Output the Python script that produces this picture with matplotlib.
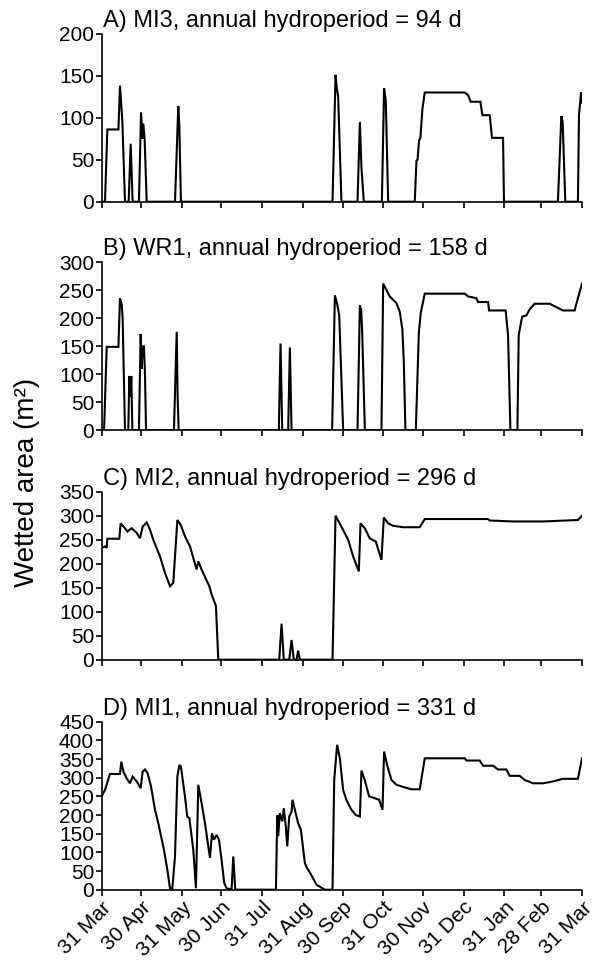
import matplotlib
matplotlib.use("Agg")
import matplotlib.pyplot as plt

plt.rcParams["font.family"] = ["Liberation Sans", "DejaVu Sans"]

# Day of the hydrological year (0 = 31 Mar) and wetted area (m2)
tick_days = [0, 30, 61, 91, 122, 153, 183, 214, 244, 275, 306, 334, 365]
tick_labels = ["31 Mar", "30 Apr", "31 May", "30 Jun", "31 Jul", "31 Aug",
               "30 Sep", "31 Oct", "30 Nov", "31 Dec", "31 Jan", "28 Feb", "31 Mar"]

mi3_day = [0, 2.5, 4.3, 12.7, 13.9, 14.7, 15.7, 17.7, 20.5, 22.0, 23.5, 28.3, 29.9,
           30.9, 31.6, 32.6, 34.2, 55.7, 58.2, 59.0, 60.2, 175.4, 177.7, 178.7,
           179.7, 182.2, 194.4, 196.2, 197.4, 199.2, 212.9, 214.6, 215.9, 217.7,
           237.9, 239.2, 240.0, 241.2, 242.2, 243.7, 245.5, 275.9, 278.4, 280.4,
           287.8, 289.3, 294.9, 296.6, 305.0, 305.7, 346.7, 349.3, 350.3, 352.3,
           361.9, 362.7, 364.3, 365.0]
mi3_area = [0, 0, 86, 86, 138, 120, 95, 0, 0, 69, 0, 0, 106,
            75, 93, 75, 0, 0, 114, 90, 0, 0, 151, 135,
            125, 0, 0, 95, 40, 0, 0, 135, 120, 0,
            0, 49, 50, 73, 76, 110, 130, 130, 127, 119,
            119, 103, 103, 76, 76, 0, 0, 102, 95, 0,
            0, 103, 130, 118]

wr1_day = [0, 1.8, 3.8, 12.7, 13.9, 15.2, 15.9, 17.7, 20.2, 21.0, 21.8, 22.5, 23.3,
           28.3, 29.6, 30.4, 31.1, 32.1, 32.9, 33.7, 54.9, 57.0, 57.7, 58.5,
           134.6, 135.9, 137.2, 141.7, 143.0, 144.3, 175.1, 177.2, 179.0, 180.5,
           183.5, 194.4, 196.2, 197.2, 197.9, 200.0, 212.6, 213.9, 215.6, 218.9,
           224.0, 226.5, 228.5, 229.6, 230.8, 238.7, 241.0, 242.5, 245.5, 275.9,
           278.4, 284.7, 286.0, 293.6, 294.4, 307.0, 308.8, 310.6, 315.9, 316.9,
           319.5, 322.7, 325.2, 329.0, 340.4, 350.5, 359.4, 361.9, 365.0]
wr1_area = [0, 0, 149, 149, 236, 225, 200, 0, 0, 97, 60, 97, 0,
            0, 172, 110, 150, 150, 100, 0, 0, 176, 60, 0,
            0, 155, 0, 0, 148, 0, 0, 241, 225, 205,
            0, 0, 223, 215, 180, 0, 0, 262, 254, 239,
            227, 212, 180, 121, 0, 0, 174, 210, 244, 244,
            239, 236, 229, 229, 214, 214, 170, 0, 0, 170,
            203, 205, 216, 226, 226, 214, 214, 236, 262]

mi2_day = [0, 2.5, 3.8, 4.3, 13.4, 14.4, 17.7, 19.5, 22.8, 26.6, 29.1, 31.1, 34.2,
           36.7, 39.2, 44.3, 48.1, 51.9, 54.4, 57.5, 60.0, 63.3, 67.1, 72.1,
           73.4, 75.9, 81.8, 83.5, 86.8, 88.6, 134.9, 136.7, 138.4, 142.5,
           144.3, 146.0, 148.1, 149.3, 150.6, 175.4, 177.7, 182.2, 187.3, 191.1,
           195.4, 196.7, 199.9, 203.7, 208.3, 212.6, 214.4, 217.7, 221.5, 229.1,
           241.7, 245.5, 293.6, 294.9, 312.6, 335.4, 361.9, 365.0]
mi2_area = [233, 236, 233, 252, 252, 284, 274, 267, 274, 264, 253, 277, 286,
            271, 250, 215, 181, 153, 160, 291, 281, 257, 236, 188,
            205, 188, 153, 136, 112, 0, 0, 75, 0, 0,
            41, 0, 0, 19, 0, 0, 300, 277, 250, 215,
            184, 284, 274, 253, 246, 208, 296, 284, 279, 276,
            276, 293, 293, 290, 288, 288, 291, 300]

mi1_day = [0, 2.5, 6.3, 13.9, 14.9, 16.5, 19.0, 21.5, 23.5, 26.6, 29.6, 31.1, 32.9,
           34.9, 37.5, 40.5, 43.0, 47.3, 49.9, 51.9, 53.7, 55.7, 57.5, 59.0,
           60.2, 63.3, 65.0, 66.6, 69.6, 71.6, 73.4, 75.9, 78.5, 81.0, 82.3,
           83.8, 85.3, 87.3, 89.1, 91.1, 93.1, 94.9, 98.7, 100.0, 101.5, 132.4,
           133.4, 134.1, 135.4, 137.2, 138.4, 139.9, 141.0, 142.5, 144.3, 145.0,
           146.8, 149.3, 151.4, 154.4, 156.2, 158.7, 160.7, 163.3, 165.8, 169.6,
           175.4, 176.7, 178.9, 181.0, 183.5, 186.0, 189.8, 193.1, 196.2, 197.4,
           199.9, 203.2, 207.5, 210.8, 213.4, 214.6, 217.2, 220.2, 224.0, 230.3,
           235.4, 241.7, 245.5, 275.9, 277.2, 287.3, 289.8, 297.4, 301.2, 307.5,
           310.0, 317.6, 321.4, 327.8, 335.4, 343.0, 350.5, 361.9, 365.0]
mi1_area = [251, 267, 310, 310, 343, 316, 298, 285, 303, 290, 272, 316, 322,
            312, 276, 214, 178, 107, 53, 4, 4, 89, 303, 334,
            330, 249, 196, 192, 107, 4, 281, 232, 178, 116, 85,
            151, 134, 147, 134, 80, 18, 4, 0, 89, 0, 0,
            200, 143, 205, 183, 218, 170, 116, 196, 209, 241,
            214, 178, 160, 71, 57, 43, 30, 13, 8, 0,
            0, 294, 388, 352, 267, 240, 214, 200, 196, 319,
            294, 250, 245, 241, 214, 370, 330, 294, 281, 274,
            269, 269, 352, 352, 346, 346, 332, 332, 322, 322,
            305, 305, 294, 285, 285, 290, 297, 297, 352]

panels = [
    ("A) MI3, annual hydroperiod = 94 d", mi3_day, mi3_area, 200, 50),
    ("B) WR1, annual hydroperiod = 158 d", wr1_day, wr1_area, 300, 50),
    ("C) MI2, annual hydroperiod = 296 d", mi2_day, mi2_area, 350, 50),
    ("D) MI1, annual hydroperiod = 331 d", mi1_day, mi1_area, 450, 50),
]

W, H = 595, 961
fig = plt.figure(figsize=(W / 100, H / 100), dpi=100)

left, right = 101.7, 582.0
tops = [33.7, 262.3, 491.7, 721.7]
height = 168.0

for i, (title, days, area, ymax, ystep) in enumerate(panels):
    top = tops[i]
    ax = fig.add_axes([left / W, 1 - (top + height) / H, (right - left) / W, height / H])
    ax.plot(days, area, color="black", lw=1.5, solid_joinstyle="miter")
    ax.set_xlim(0, 365)
    ax.set_ylim(0, ymax)
    ax.set_yticks(range(0, ymax + 1, ystep))
    ax.set_xticks(tick_days)
    for s in ("top", "right"):
        ax.spines[s].set_visible(False)
    for s in ("left", "bottom"):
        ax.spines[s].set_linewidth(1.2)
    ax.tick_params(axis="both", direction="out", length=4, width=1.2,
                   labelsize=15, pad=2)
    ax.tick_params(axis="y", pad=1.5)
    if i == len(panels) - 1:
        ax.set_xticklabels(tick_labels, rotation=45, ha="right",
                           rotation_mode="anchor")
    else:
        ax.set_xticklabels([])
    ax.text(0.003, 1.012, title, transform=ax.transAxes, ha="left", va="bottom",
            fontsize=17)

fig.text(0.045, 0.498, "Wetted area (m²)", rotation=90, ha="center", va="center",
         fontsize=20)

fig.savefig("out.png", dpi=100)
